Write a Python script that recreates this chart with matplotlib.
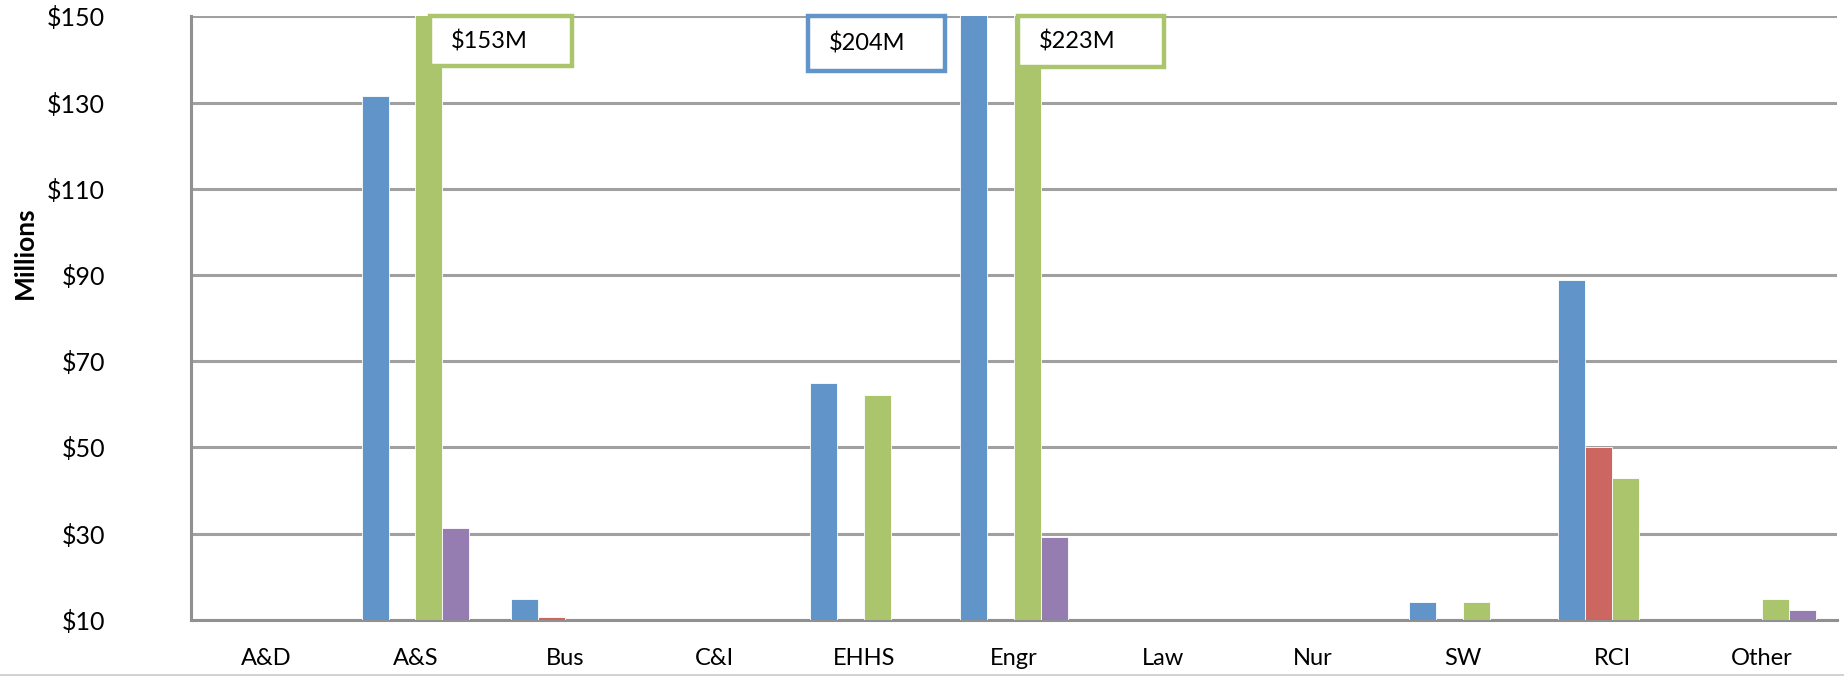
import numpy as np
import matplotlib
matplotlib.use("Agg")
import matplotlib.pyplot as plt
from matplotlib.patches import Rectangle

categories = ["A&D", "A&S", "Bus", "C&I", "EHHS", "Engr", "Law", "Nur", "SW", "RCI", "Other"]
# four series, values in $ millions (0 = no bar)
blue = [0, 131.5, 14.8, 0, 65.0, 204, 0, 0, 14.2, 88.9, 0]
red = [0, 0, 10.7, 0, 0, 0, 0, 0, 0, 50.0, 0]
green = [0, 153, 0, 0, 62.2, 223, 0, 0, 14.2, 43.0, 14.8]
purple = [0, 31.3, 0, 0, 0, 29.2, 0, 0, 0, 0, 12.2]
yticks = [10, 30, 50, 70, 90, 110, 130, 150]

series = [blue, red, green, purple]
colors = ["#6195c9", "#cc6660", "#abc56d", "#957cb1"]

plt.rcParams['font.family'] = ['Lato', 'DejaVu Sans']

fig = plt.figure(figsize=(18.44, 6.76), dpi=100)
ax = fig.add_axes([0.1036, 0.083, 0.8924, 0.8926])

x = np.arange(len(categories))
w = 0.18
for k, (vals, c) in enumerate(zip(series, colors)):
    ax.bar(x + (k - 1.5) * w, vals, w, color=c, edgecolor="white", linewidth=0.6, zorder=3)

ax.set_xlim(-0.5, len(categories) - 0.5)
ax.set_ylim(10, 150)
ax.set_yticks(yticks)
ax.set_yticklabels(["$%d" % t for t in yticks], fontsize=18)
ax.set_xticks(x)
ax.set_xticklabels(categories, fontsize=17)
ax.tick_params(length=0)
ax.tick_params(axis="x", pad=20)
ax.tick_params(axis="y", pad=62)
ax.grid(axis="y", color="#a0a0a0", linewidth=2.2, zorder=1)
for s in ["top", "right"]:
    ax.spines[s].set_visible(False)
for s in ["left", "bottom"]:
    ax.spines[s].set_color("#909090")
    ax.spines[s].set_linewidth(2.2)
fig.text(0.0135, 0.626, "Millions", fontsize=19, fontweight="bold",
         rotation=90, ha="center", va="center")

# callout boxes for bars running past the top
boxes = [
    (1.095, 2.046, 138.5, "$153M", colors[2]),
    (3.625, 4.537, 137.4, "$204M", colors[0]),
    (5.03, 6.006, 138.3, "$223M", colors[2]),
]
for x0, x1, y0, label, c in boxes:
    ax.add_patch(Rectangle((x0, y0), x1 - x0, 150 - y0, facecolor="white",
                           edgecolor=c, linewidth=3.2, zorder=5, clip_on=False))
    ax.text(x0 + 0.14, (150 + y0) / 2, label, fontsize=17, va="center",
            ha="left", zorder=6)

fig.add_artist(plt.Line2D([0, 1], [0.002, 0.002], color="#d0d0d0", linewidth=2))

fig.savefig("out.png", dpi=100)
